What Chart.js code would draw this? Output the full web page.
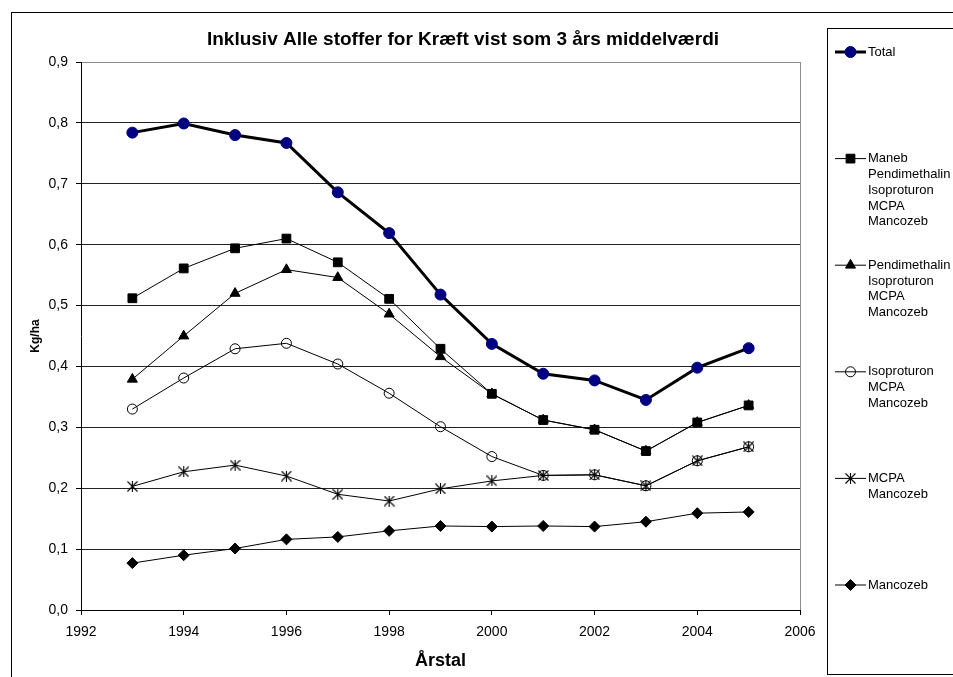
<!DOCTYPE html>
<html>
<head>
<meta charset="utf-8">
<script src="https://cdn.jsdelivr.net/npm/chart.js@4"></script>
<style>
  html, body { margin: 0; padding: 0; background: #fff; }
  #chart { display: block; }
</style>
</head>
<body>
<canvas id="chart" width="953" height="677"></canvas>
<script>
// Data
const years = [1993, 1994, 1995, 1996, 1997, 1998, 1999, 2000, 2001, 2002, 2003, 2004, 2005];
const total = [0.784, 0.799, 0.780, 0.767, 0.686, 0.619, 0.518, 0.437, 0.388, 0.377, 0.345, 0.398, 0.430];
const maneb = [0.512, 0.561, 0.594, 0.610, 0.571, 0.511, 0.429, 0.355, 0.312, 0.296, 0.261, 0.308, 0.336];
const pendimethalin = [0.379, 0.450, 0.520, 0.559, 0.546, 0.486, 0.416, 0.355, 0.312, 0.296, 0.261, 0.308, 0.336];
const isoproturon = [0.330, 0.381, 0.429, 0.438, 0.404, 0.356, 0.301, 0.252, 0.221, 0.222, 0.204, 0.245, 0.268];
const mcpa = [0.203, 0.227, 0.238, 0.220, 0.190, 0.179, 0.199, 0.212, 0.221, 0.222, 0.204, 0.245, 0.268];
const mancozeb = [0.077, 0.090, 0.101, 0.116, 0.120, 0.130, 0.138, 0.137, 0.138, 0.137, 0.145, 0.159, 0.161];

const legendLabels = [
  ['Total'],
  ['Maneb', 'Pendimethalin', 'Isoproturon', 'MCPA', 'Mancozeb'],
  ['Pendimethalin', 'Isoproturon', 'MCPA', 'Mancozeb'],
  ['Isoproturon', 'MCPA', 'Mancozeb'],
  ['MCPA', 'Mancozeb'],
  ['Mancozeb']
];

const chartTitle = 'Inklusiv Alle stoffer for Kræft vist som 3 års middelværdi';
const xTitle = 'Årstal';
const yTitle = 'Kg/ha';

const FONT = "'Liberation Sans', Arial, sans-serif";

// Excel style star marker: an X with a vertical bar
function makeStar() {
  const c = document.createElement('canvas');
  c.width = 11; c.height = 11;
  const g = c.getContext('2d');
  g.strokeStyle = '#000';
  g.lineWidth = 1.1;
  g.beginPath();
  g.moveTo(0.5, 0.5); g.lineTo(10.5, 10.5);
  g.moveTo(10.5, 0.5); g.lineTo(0.5, 10.5);
  g.moveTo(5.5, 0); g.lineTo(5.5, 11);
  g.stroke();
  return c;
}
const starImg = makeStar();

const toPoints = vals => vals.map((v, i) => ({ x: years[i], y: v }));

function series(label, vals, extra) {
  return Object.assign({
    label,
    data: toPoints(vals),
    borderColor: '#000',
    borderWidth: 1,
    pointBorderColor: '#000',
    pointBackgroundColor: '#000',
    pointBorderWidth: 1,
    pointRadius: 5.5,
    pointHoverRadius: 5.5,
    tension: 0,
    fill: false
  }, extra);
}

const datasets = [
  series('Total', total, {
    borderWidth: 3, pointStyle: 'circle', pointRadius: 5.5,
    pointBackgroundColor: '#000080', pointBorderColor: '#000080'
  }),
  series('Maneb', maneb, { pointStyle: 'rect', pointRadius: 6.2 }),
  series('Pendimethalin', pendimethalin, { pointStyle: 'triangle', pointRadius: 5.8 }),
  series('Isoproturon', isoproturon, {
    pointStyle: 'circle', pointRadius: 5, pointBackgroundColor: 'rgba(0,0,0,0)'
  }),
  series('MCPA', mcpa, { pointStyle: starImg }),
  series('Mancozeb', mancozeb, { pointStyle: 'rectRot', pointRadius: 5.5 })
];

// frame, title and the multi-line legend box
const decorations = {
  id: 'decorations',
  beforeDraw(chart) {
    const ctx = chart.ctx;
    ctx.save();
    ctx.fillStyle = '#fff';
    ctx.fillRect(0, 0, chart.width, chart.height);
    ctx.strokeStyle = '#000';
    ctx.lineWidth = 1;
    ctx.strokeRect(11.5, 12.5, 960, 700);
    ctx.restore();
  },
  afterDraw(chart) {
    const ctx = chart.ctx;
    ctx.save();
    // title
    ctx.fillStyle = '#000';
    ctx.font = 'bold 19px ' + FONT;
    ctx.textAlign = 'center';
    ctx.textBaseline = 'middle';
    ctx.fillText(chartTitle, 463, 40);

    // legend box
    ctx.strokeStyle = '#000';
    ctx.lineWidth = 1;
    ctx.strokeRect(827.5, 28.5, 140, 646);

    ctx.font = '13px ' + FONT;
    ctx.textAlign = 'left';
    const firstY = 52, step = 106.6, lineH = 15.8;
    chart.data.datasets.forEach((ds, i) => {
      const y = firstY + i * step;
      ctx.strokeStyle = ds.borderColor;
      ctx.lineWidth = ds.borderWidth;
      ctx.beginPath();
      ctx.moveTo(835, y);
      ctx.lineTo(866, y);
      ctx.stroke();
      ctx.fillStyle = ds.pointBackgroundColor;
      ctx.strokeStyle = ds.pointBorderColor;
      ctx.lineWidth = ds.pointBorderWidth;
      Chart.helpers.drawPoint(ctx, {
        pointStyle: ds.pointStyle,
        radius: ds.pointRadius,
        borderWidth: ds.pointBorderWidth,
        rotation: 0
      }, 850.5, y);
      ctx.fillStyle = '#000';
      legendLabels[i].forEach((t, k) => ctx.fillText(t, 868, y + k * lineH));
    });
    ctx.restore();
  }
};

new Chart(document.getElementById('chart'), {
  type: 'line',
  data: { datasets },
  options: {
    responsive: false,
    animation: false,
    devicePixelRatio: 1,
    layout: { padding: { top: 62, right: 153, left: 0, bottom: 0 } },
    plugins: {
      legend: { display: false },
      title: { display: false },
      tooltip: { enabled: false }
    },
    scales: {
      x: {
        type: 'linear',
        min: 1992,
        max: 2006,
        afterFit(scale) { scale.height = 67; },
        ticks: {
          stepSize: 2,
          color: '#000',
          font: { family: FONT, size: 14 },
          padding: 9,
          maxRotation: 0,
          callback: v => String(v)
        },
        grid: {
          drawOnChartArea: true,
          color: c => (c.tick && c.tick.value === 2006) ? '#8c8c8c' : 'rgba(0,0,0,0)',
          tickColor: '#000',
          tickLength: 5
        },
        border: { display: true, color: '#000', width: 1 },
        title: {
          display: true,
          text: xTitle,
          color: '#000',
          font: { family: FONT, size: 18, weight: 'bold' },
          padding: { top: 0, bottom: 5 }
        }
      },
      y: {
        min: 0,
        max: 0.9,
        afterFit(scale) { scale.width = 81; },
        ticks: {
          stepSize: 0.1,
          color: '#000',
          font: { family: FONT, size: 14 },
          padding: 8,
          callback: v => v.toFixed(1).replace('.', ',')
        },
        grid: {
          color: c => {
            const v = Math.round(c.tick.value * 10);
            if (v === 9) return '#8c8c8c';
            if (v === 0) return 'rgba(0,0,0,0)';
            return '#222';
          },
          tickColor: '#000',
          tickLength: 5
        },
        border: { display: true, color: '#000', width: 1 },
        title: {
          display: true,
          text: yTitle,
          color: '#000',
          font: { family: FONT, size: 12, weight: 'bold' },
          padding: { top: 28, bottom: 0 }
        }
      }
    }
  },
  plugins: [decorations]
});
</script>
</body>
</html>
